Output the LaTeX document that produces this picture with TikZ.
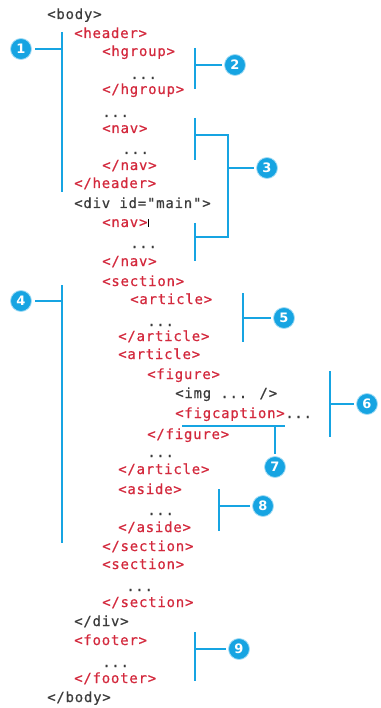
\documentclass[tikz,border=0pt]{standalone}
\usepackage{fontspec}
\newfontfamily\codefont[LetterSpace=5.5,FakeBold=0.6]{DejaVu Sans Mono}
\newfontfamily\numfont{DejaVu Sans}
\usetikzlibrary{positioning}

\definecolor{tagred}{HTML}{D3293D}
\definecolor{codegray}{HTML}{3C3C3C}
\definecolor{markblue}{HTML}{16A4E2}
\definecolor{markring}{HTML}{A6DDF5}

\tikzset{
  code/.style={anchor=base west, inner sep=0pt, text=codegray,
    font=\codefont\fontsize{14}{16}\selectfont},
  tag/.style={code, text=tagred},
  callout/.style={circle, fill=markblue, draw=markring, line width=0.8pt,
    minimum size=21pt, inner sep=0pt, outer sep=3pt, text=white,
    font=\numfont\bfseries\fontsize{13}{13}\selectfont},
  brk/.style={draw=markblue, line width=1.7pt}
}

\begin{document}
\begin{tikzpicture}[x=1pt,y=-1pt]
\useasboundingbox (0,0) rectangle (380,708);

% markup lines
\node[code] (body) at (47,19) {<body>};
\node[tag] (header) at (74,38) {<header>};
\node[tag] (hgroup) at (102,56) {<hgroup>};
\node[code] (dotsa) at (130,79) {...};
\node[tag] (hgroupend) at (102,94) {</hgroup>};
\node[code] (dotsb) at (102,117) {...};
\node[tag] (nava) at (102,133) {<nav>};
\node[code] (dotsc) at (122,154) {...};
\node[tag] (navaend) at (102,170) {</nav>};
\node[tag] (headerend) at (74,188) {</header>};
\node[code] (div) at (74,208) {<div id="main">};
\node[tag] (navb) at (102,227) {<nav>};
\node[code] (dotsd) at (130,248) {...};
\node[tag] (navbend) at (102,266) {</nav>};
\node[tag] (seca) at (102,286) {<section>};
\node[tag] (arta) at (130,304) {<article>};
\node[code] (dotse) at (147,326) {...};
\node[tag] (artaend) at (118,341) {</article>};
\node[tag] (artb) at (118,359) {<article>};
\node[tag] (fig) at (147,379) {<figure>};
\node[code] (img) at (175,398) {<img ... />};
\node[tag] (figcap) at (175,418) {<figcaption>};
\node[code] (figdots) at (figcap.base east) {...};
\node[tag] (figend) at (147,439) {</figure>};
\node[code] (dotsf) at (147,457) {...};
\node[tag] (artbend) at (118,474) {</article>};
\node[tag] (aside) at (118,494) {<aside>};
\node[code] (dotsg) at (147,515) {...};
\node[tag] (asideend) at (118,532) {</aside>};
\node[tag] (secaend) at (102,551) {</section>};
\node[tag] (secb) at (102,569) {<section>};
\node[code] (dotsh) at (126,591) {...};
\node[tag] (secbend) at (102,607) {</section>};
\node[code] (divend) at (74,626) {</div>};
\node[tag] (footer) at (74,645) {<footer>};
\node[code] (dotsi) at (102,667) {...};
\node[tag] (footerend) at (74,683) {</footer>};
\node[code] (bodyend) at (47,702) {</body>};

% text cursor
\draw[line width=1.2pt] ([xshift=1pt]navb.north east) -- ([xshift=1pt]navb.south east);

% callouts
\node[callout] (c1) at (21,49) {1};
\node[callout] (c2) at (235,65) {2};
\node[callout] (c3) at (267,168) {3};
\node[callout] (c4) at (21,301) {4};
\node[callout] (c5) at (284,318) {5};
\node[callout] (c6) at (367,404) {6};
\node[callout] (c7) at (275,467) {7};
\node[callout] (c8) at (263,506) {8};
\node[callout] (c9) at (239,649) {9};

% brackets
\draw[brk] (62,32) -- (62,192);
\coordinate (b1) at (62,49);
\draw[brk] (b1) -- (c1);

\draw[brk] (195,48) -- (195,89);
\coordinate (b2) at (195,65);
\draw[brk] (b2) -- (c2);

\draw[brk] (195,118) -- (195,160);
\draw[brk] (195,223) -- (195,261);
\draw[brk] (195,135) -- (228,135) -- (228,237) -- (195,237);
\coordinate (b3) at (228,168);
\draw[brk] (b3) -- (c3);

\draw[brk] (62,285) -- (62,543);
\coordinate (b4) at (62,301);
\draw[brk] (b4) -- (c4);

\draw[brk] (243,293) -- (243,342);
\coordinate (b5) at (243,318);
\draw[brk] (b5) -- (c5);

\draw[brk] (330,371) -- (330,437);
\coordinate (b6) at (330,404);
\draw[brk] (b6) -- (c6);

\draw[brk] (182,426) -- (285,426);
\coordinate (b7) at (275,426);
\draw[brk] (b7) -- (c7);

\draw[brk] (219,489) -- (219,531);
\coordinate (b8) at (219,506);
\draw[brk] (b8) -- (c8);

\draw[brk] (195,632) -- (195,681);
\coordinate (b9) at (195,649);
\draw[brk] (b9) -- (c9);
\end{tikzpicture}
\end{document}
